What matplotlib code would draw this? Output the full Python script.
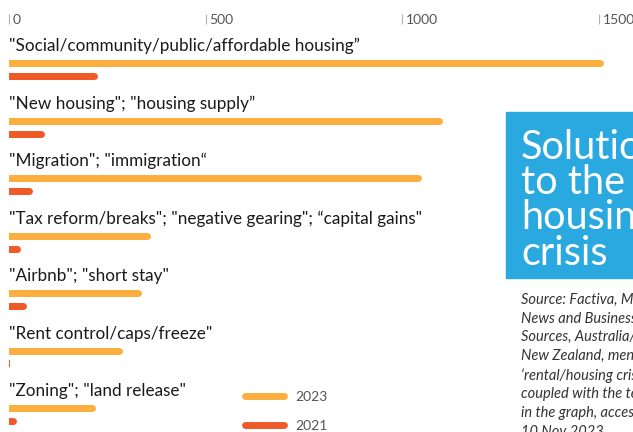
import matplotlib
matplotlib.use('Agg')
import matplotlib.pyplot as plt
from matplotlib.lines import Line2D
from matplotlib.patches import Rectangle

# dados
categorias = [
    '"Social/community/public/affordable housing\u201d',
    '"New housing"; "housing supply\u201d',
    '"Migration"; "immigration\u201c',
    '"Tax reform/breaks"; "negative gearing"; \u201ccapital gains"',
    '"Airbnb"; "short stay"',
    '"Rent control/caps/freeze"',
    '"Zoning"; "land release"',
]
valores_2023 = [1512, 1104, 1049, 359, 338, 289, 219]
valores_2021 = [224, 91, 59, 30, 45, 2, 20]
ticks_x = [0, 500, 1000, 1500]

titulo = 'Solutions\nto the\nhousing\ncrisis'
fonte = ('Source: Factiva, Major\nNews and Business\nSources, Australia/\n'
         'New Zealand, mentions\n\u2018rental/housing crisis\u2019\n'
         'coupled with the terms\nin the graph, accessed\n10 Nov 2023')

cor_2023 = '#fcaf3e'
cor_2021 = '#f05a28'
plt.rcParams['font.family'] = ['Lato', 'DejaVu Sans']

W, H = 633, 432
fig = plt.figure(figsize=(W / 100, H / 100), dpi=100)
ax = fig.add_axes([9 / W, 0, 1 - 9 / W, 1 - 14 / H])

px_por_unidade = 196.5 / 500
ax.set_xlim(0, (W - 9) / px_por_unidade)
passo = 57.5
ax.set_ylim((H - 63) / passo, (14 - 63) / passo)

lw_px = 7
raio = (lw_px / 2) / px_por_unidade
desloc = 13 / passo
alt = lw_px / passo


def barra(y, v, cor):
    if v > raio:
        ax.plot([-raio * 2, v - raio], [y, y], color=cor, lw=lw_px * 0.72,
                solid_capstyle='round')
    else:
        ax.barh(y, v, height=alt, color=cor)


for i, cat in enumerate(categorias):
    barra(i, valores_2023[i], cor_2023)
    barra(i + desloc, valores_2021[i], cor_2021)
    ax.text(0, i - 17 / passo, cat, ha='left', va='center', fontsize=12.35,
            color='#1a1a1a')

ax.set_xticks(ticks_x)
ax.set_xticklabels([])
ax.xaxis.tick_top()
ax.tick_params(axis='x', direction='in', length=7.5, width=0.8,
               color='#b0b0b0', pad=0)
ax.set_yticks([])
for t in ticks_x:
    ax.annotate(str(t), xy=(t, 1), xycoords=('data', 'axes fraction'),
                xytext=(4, -5.5), textcoords='offset pixels',
                ha='left', va='center', fontsize=10, color='#555555')
for s in ax.spines.values():
    s.set_visible(False)

# caixa azul com o título
fig.patches.append(Rectangle((506 / W, 1 - 278 / H), 1, (278 - 112) / H,
                             transform=fig.transFigure, color='#2aa8e0',
                             zorder=0))
fig.text(521 / W, 1 - 129 / H, titulo, ha='left', va='top', fontsize=28.5,
         color='white', fontweight='normal', linespacing=0.94)

fig.text(521 / W, 1 - 293 / H, fonte, ha='left', va='top', fontsize=10.5,
         style='italic', color='#333333', linespacing=1.42)

# legenda
handles = [Line2D([], [], color=cor_2023, lw=5, solid_capstyle='round'),
           Line2D([], [], color=cor_2021, lw=5, solid_capstyle='round')]
fig.legend(handles, ['2023', '2021'], loc='upper left',
           bbox_to_anchor=(245 / W, 1 - 391 / H), frameon=False,
           borderpad=0, handlelength=2.8, handletextpad=0.8,
           labelspacing=1.2, labelcolor='#555555', fontsize=10,
           borderaxespad=0)

fig.savefig('out.png', dpi=100)
